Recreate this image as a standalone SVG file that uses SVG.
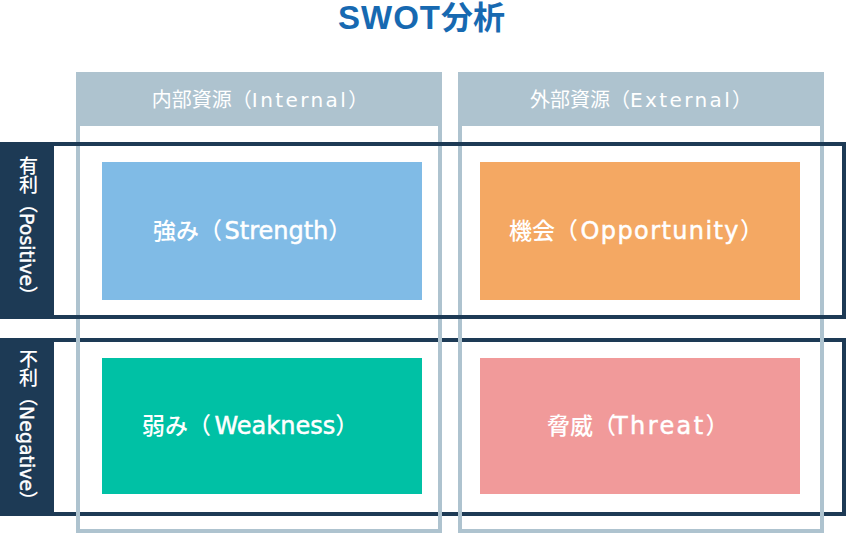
<svg xmlns="http://www.w3.org/2000/svg" width="846" height="534" viewBox="0 0 846 534">
<style>
text{font-family:"DejaVu Sans","Noto Sans CJK JP",sans-serif}
.title{font-family:"Liberation Sans","Noto Sans CJK JP",sans-serif;font-size:33px;font-weight:700;fill:#1769b1}
.title .sw{letter-spacing:1px}
.title .cj{font-size:32px}
.col{fill:none;stroke:#aec3cf;stroke-width:4}
.colhead{fill:#aec3cf}
.head{font-size:20px;fill:#ffffff;text-anchor:middle}
.head .lt{letter-spacing:2.4px}
.row{fill:none;stroke:#1d3a55;stroke-width:4}
.rowlab{fill:#1d3a55}
.vlab{font-size:19px;font-weight:500;fill:#ffffff;writing-mode:vertical-rl;text-orientation:mixed}
.vlab .lt{stroke:#ffffff;stroke-width:0.4}
.box{font-size:23px;font-weight:500;fill:#ffffff}
.box .lt{font-size:24px;stroke:#ffffff;stroke-width:0.5}
</style>
<rect width="846" height="534" fill="#ffffff"/>
<text class="title" x="338" y="29"><tspan class="sw">SWOT</tspan><tspan class="cj">分析</tspan></text>
<g id="row-negative">
  <rect class="row" x="2" y="340" width="842" height="174"/>
  <rect class="rowlab" x="0" y="338" width="54" height="178"/>
  <text class="vlab" x="27" y="349">不利（<tspan class="lt">Negative</tspan>）</text>
</g>
<g id="col-internal">
  <rect class="col" x="78" y="74" width="362" height="457"/>
  <rect class="colhead" x="76" y="72" width="366" height="54"/>
  <text class="head" x="260" y="107">内部資源（<tspan class="lt">Internal</tspan>）</text>
</g>
<g id="col-external">
  <rect class="col" x="460" y="74" width="362" height="457"/>
  <rect class="colhead" x="458" y="72" width="366" height="54"/>
  <text class="head" x="641" y="107">外部資源（<tspan class="lt">External</tspan>）</text>
</g>
<g id="row-positive">
  <rect class="row" x="2" y="144" width="842" height="173"/>
  <rect class="rowlab" x="0" y="142" width="54" height="177"/>
  <text class="vlab" x="27" y="156">有利（<tspan class="lt">Positive</tspan>）</text>
</g>
<g id="strength">
  <rect x="102" y="162" width="320" height="138" fill="#80bbe6"/>
  <text class="box" x="153" y="239">強み（<tspan class="lt" dx="2.5">Strength</tspan>）</text>
</g>
<g id="opportunity">
  <rect x="480" y="162" width="320" height="138" fill="#f4a863"/>
  <text class="box" x="509" y="239">機会（<tspan class="lt" dx="2.5" letter-spacing="1.4">Opportunity</tspan>）</text>
</g>
<g id="weakness">
  <rect x="102" y="358" width="320" height="136" fill="#00c1a5"/>
  <text class="box" x="142" y="434">弱み（<tspan class="lt" dx="3.5">Weakness</tspan>）</text>
</g>
<g id="threat">
  <rect x="480" y="358" width="320" height="136" fill="#f19a9a"/>
  <text class="box" x="547" y="434">脅威（<tspan class="lt" dx="-3" letter-spacing="2.4">Threat</tspan>）</text>
</g>
<g id="connectors"></g>
</svg>
